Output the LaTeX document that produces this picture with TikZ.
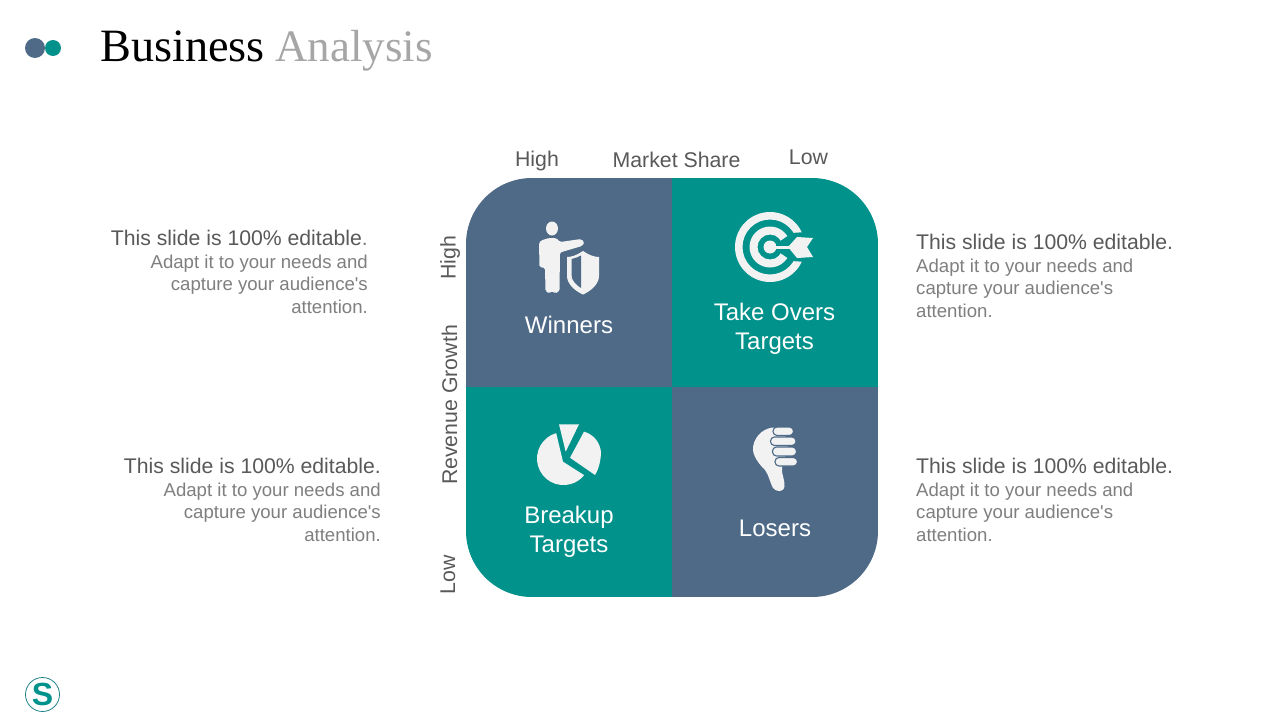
\documentclass[tikz,border=0pt]{standalone}
\usepackage{fontspec}
\setmainfont{Liberation Sans}
\newfontfamily\plainsans{Liberation Sans}
\newfontfamily\serifttl{Liberation Serif}
\definecolor{slate}{HTML}{4E6A87}
\definecolor{teal2}{HTML}{00928B}
\definecolor{icon}{HTML}{F2F2F2}
\definecolor{txta}{HTML}{595959}
\definecolor{txtb}{HTML}{7F7F7F}
\tikzset{
  lab/.style={text=txta,font=\fontsize{21.3}{25}\selectfont,inner sep=0pt},
  cell/.style={text=white,font=\fontsize{24}{29}\selectfont,align=center,inner sep=0pt},
  ttl/.style={inner sep=0pt,anchor=base west},
  ic/.style={fill=icon,draw=none},
  blurbl/.style={text=txtb,font=\plainsans\fontsize{18.6}{22.5}\selectfont,align=right,inner sep=0pt,anchor=north east},
  blurbr/.style={text=txtb,font=\plainsans\fontsize{18.6}{22.5}\selectfont,align=left,inner sep=0pt,anchor=north west},
}
\newcommand{\blurbhead}[1]{{\fontsize{21.2}{22.5}\selectfont\textcolor{txta}{This slide is 100\% editable#1}}}
\newcommand{\blurb}[1]{\blurbhead{#1}\\Adapt it to your needs and\\capture your audience's\\attention.}
\begin{document}
\begin{tikzpicture}[x=1pt,y=-1pt]
\useasboundingbox (0,0) rectangle (1280,720);
\fill[white] (0,0) rectangle (1280,720);
% title
\fill[slate] (35,48) circle (10);
\fill[teal2] (53,48) circle (8);
\node[ttl,font=\serifttl\fontsize{46.3}{50}\selectfont] (title) at (100,61) {\textcolor{black}{Business}};
\node[ttl,font=\serifttl\fontsize{45}{50}\selectfont,text={rgb,255:red,166;green,166;blue,166}] (title2) at (275,61) {Analysis};
% matrix
\begin{scope}
\clip[rounded corners=66pt] (466,178) rectangle (878,597);
\fill[slate] (466,178) rectangle (672,387);
\fill[teal2] (672,178) rectangle (878,387);
\fill[teal2] (466,387) rectangle (672,597);
\fill[slate] (672,387) rectangle (878,597);
\end{scope}
% axis labels
\node[lab] (mh) at (537,161) {High};
\node[lab] (ms) at (676.5,159.5) {Market Share};
\node[lab] (ml) at (808.5,157.5) {Low};
\node[lab,rotate=90] (rh) at (450,258) {High};
\node[lab,rotate=90] (rg) at (449.5,405) {Revenue Growth};
\node[lab,rotate=90] (rl) at (448,575) {Low};
% cell labels
\node[cell] (w) at (569,325) {Winners};
\node[cell] (t) at (774.5,328.5) {Take Overs\\Targets};
\node[cell] (b) at (569,531.5) {Breakup\\Targets};
\node[cell] (l) at (775,528) {Losers};
% blurbs
\node[blurbl] (b1) at (368,230) {\blurbhead{\textcolor{txtb}{.}}\\Adapt it to your needs and\\capture your audience's\\attention.};
\node[blurbl] (b2) at (381,458) {\blurb{.}};
\node[blurbr] (b3) at (916,234) {\blurb{.}};
\node[blurbr] (b4) at (916,458) {\blurb{.}};
% winners icon: person
\fill[ic] (552,228.5) ellipse (6 and 7);
\fill[ic,rounded corners=1.5pt] (539,243) -- (541,240.5) -- (549,238) -- (556,238) -- (560,242) -- (581,239) -- (584.5,242.5) -- (582,246) -- (560,252.5) -- (559.5,291) -- (555,293.5) -- (552,291) -- (549,293.5) -- (545.5,291) -- (545,268) -- (539.5,267) -- cycle;
% shield
\fill[ic] (583,251) .. controls (577,255) and (572,257) .. (567,257) -- (567,276) .. controls (567,284) and (575,291) .. (583,294.5) .. controls (591,291) and (599,284) .. (599,276) -- (599,257) .. controls (594,257) and (589,255) .. (583,251) -- cycle;
\fill[slate] (581,255.5) .. controls (578,257) and (575,258.5) .. (571.5,259) -- (571.5,275) .. controls (571.5,280) and (576,285) .. (581,288) -- cycle;
% target icon
\fill[icon,even odd rule] (770,247) circle (35) (770,247) circle (27.5) (770,247) circle (20.5) (770,247) circle (12.5) (770,247) circle (6.5);
\fill[teal2] (776,244) -- (792,233) -- (820,231) -- (820,263) -- (792,261) -- (776,250) -- cycle;
\fill[icon] (770,245.5) rectangle (792,248.5);
\fill[ic] (788,247) -- (797,237) -- (813,238) -- (807,247) -- (813,257) -- (797,258) -- cycle;
% pie icon
\fill[ic] (556.2,433.1) arc[start angle=254,end angle=38.8,radius=26.5] -- (563,461.7) -- cycle;
\fill[ic] (565.7,451.7) -- (559,424.3) -- (579,424.3) -- cycle;
\fill[ic] (570,457.7) -- (584,431.7) .. controls (593,434) and (600,442) .. (601,452) .. controls (601,459) and (599,469) .. (595,475) -- cycle;
% thumb icon
\fill[ic] (774,427.5) .. controls (766,427.5) and (755,434) .. (753,447) .. controls (752,456) and (760,465) .. (765,470) .. controls (769,475) and (770,483) .. (773,488) .. controls (776,492) and (784,493) .. (784.5,486) .. controls (785,479) and (781,474) .. (782,467) -- (790,440) -- cycle;
\foreach \xa/\xb/\ya/\yb in {773/793.5/427/435.5, 770.5/796/437/445.5, 772.5/796.5/447/456, 775/797.5/457.5/466}{
  \fill[icon,draw=slate,line width=1.1pt,rounded corners=4pt] (\xa,\ya) rectangle (\xb,\yb);
}
% logo
\draw[draw=teal2!60!slate,line width=0.8pt] (42.5,694.5) circle (17);
\node[inner sep=0pt,text=teal2,font=\fontsize{32}{32}\selectfont\bfseries] (logo) at (42.5,694.5) {S};
\end{tikzpicture}
\end{document}
